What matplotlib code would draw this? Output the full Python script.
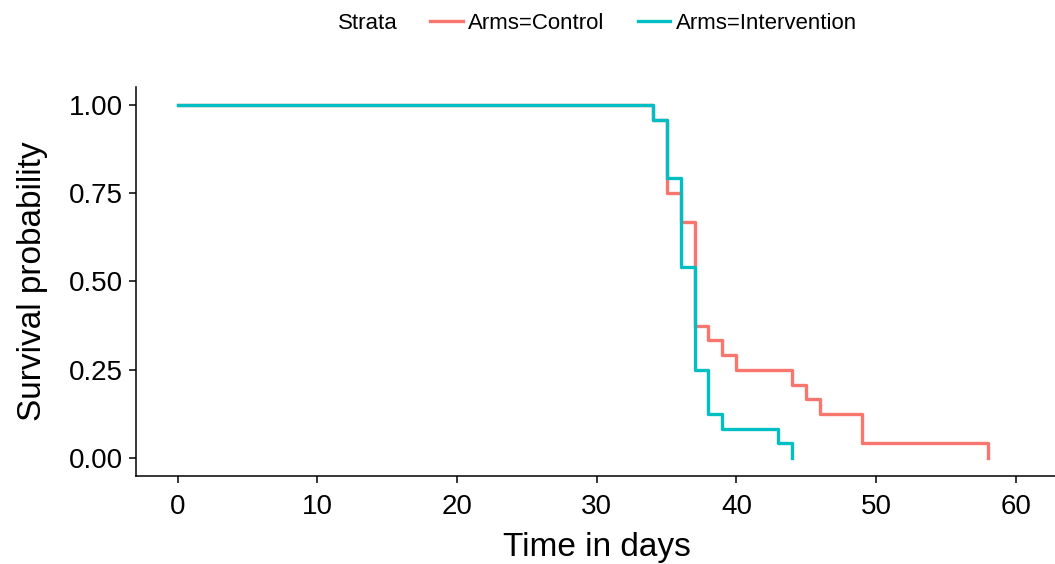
import matplotlib.pyplot as plt

plt.rcParams['font.family'] = ['Liberation Sans', 'DejaVu Sans']

# Kaplan-Meier steps
control_time = [0, 34, 35, 36, 37, 38, 39, 40, 44, 45, 46, 49, 58]
control_surv = [1.0, 0.958, 0.75, 0.667, 0.375, 0.333, 0.292, 0.25, 0.208, 0.167, 0.125, 0.042, 0.0]
interv_time = [0, 34, 35, 36, 37, 38, 39, 43, 44]
interv_surv = [1.0, 0.958, 0.792, 0.542, 0.25, 0.125, 0.083, 0.042, 0.0]

labels = ["Arms=Control", "Arms=Intervention"]
colors = ["#F8766D", "#00BFC4"]
xticks = [0, 10, 20, 30, 40, 50, 60]
yticks = [0.0, 0.25, 0.5, 0.75, 1.0]
ytick_labels = ["0.00", "0.25", "0.50", "0.75", "1.00"]

fig = plt.figure(figsize=(10.55, 5.64), dpi=100)
ax = fig.add_axes([0.1286, 0.1566, 0.874, 0.689])

ax.step(control_time, control_surv, where="post", color=colors[0], lw=2.4, label=labels[0])
ax.step(interv_time, interv_surv, where="post", color=colors[1], lw=2.4, label=labels[1])

ax.set_xlim(-3, 63)
ax.set_ylim(-0.05, 1.05)
ax.set_xticks(xticks)
ax.set_yticks(yticks)
ax.set_yticklabels(ytick_labels)
ax.tick_params(labelsize=20, length=5, width=1.1, color="black", labelcolor="black")
ax.tick_params(axis="x", pad=8)
ax.tick_params(axis="y", pad=4)
for s in ["top", "right"]:
    ax.spines[s].set_visible(False)
for s in ["left", "bottom"]:
    ax.spines[s].set_linewidth(1.1)

ax.set_xlabel("Time in days", fontsize=24, labelpad=9)
ax.set_ylabel("Survival probability", fontsize=24, labelpad=15)

fig.text(0.32, 0.958, "Strata", fontsize=16, va="center", ha="left")
fig.legend(loc="center left", bbox_to_anchor=(0.408, 0.958), ncol=2, frameon=False,
           fontsize=16, handlelength=1.45, handletextpad=0.25, columnspacing=1.5,
           borderpad=0, borderaxespad=0)

fig.savefig("out.png", dpi=100)
